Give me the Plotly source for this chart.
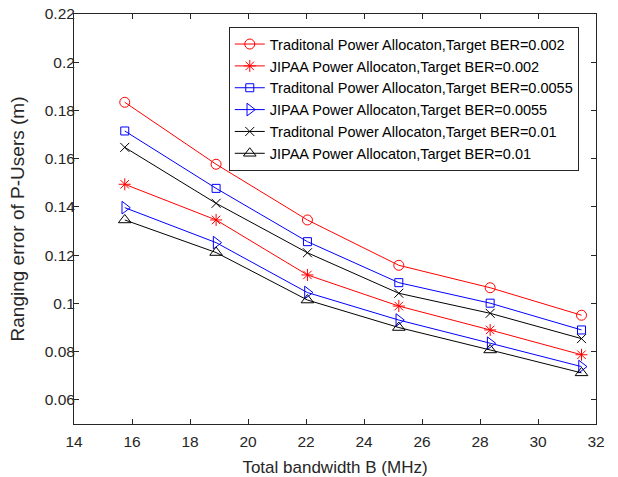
import plotly.graph_objects as go

bandwidth = [15.75, 18.9, 22.05, 25.2, 28.35, 31.5]

trad_0002 = [0.1834, 0.1577, 0.1346, 0.1158, 0.1065, 0.0951]
jipaa_0002 = [0.1494, 0.1346, 0.1118, 0.0989, 0.0890, 0.0787]
trad_00055 = [0.1715, 0.1477, 0.1256, 0.1086, 0.1001, 0.0890]
jipaa_00055 = [0.1397, 0.1252, 0.1045, 0.0931, 0.0835, 0.0738]
trad_001 = [0.1647, 0.1415, 0.1210, 0.1042, 0.0959, 0.0854]
jipaa_001 = [0.1346, 0.1211, 0.1014, 0.0900, 0.0807, 0.0712]

series_names = [
    "Traditonal Power Allocaton,Target BER=0.002",
    "JIPAA Power Allocaton,Target BER=0.002",
    "Traditonal Power Allocaton,Target BER=0.0055",
    "JIPAA Power Allocaton,Target BER=0.0055",
    "Traditonal Power Allocaton,Target BER=0.01",
    "JIPAA Power Allocaton,Target BER=0.01",
]
series_values = [trad_0002, jipaa_0002, trad_00055, jipaa_00055, trad_001, jipaa_001]

x_ticks = [14, 16, 18, 20, 22, 24, 26, 28, 30, 32]
y_ticks = [0.06, 0.08, 0.1, 0.12, 0.14, 0.16, 0.18, 0.2, 0.22]
y_tick_labels = ["0.06", "0.08", "0.1", "0.12", "0.14", "0.16", "0.18", "0.2", "0.22"]

colors = ["#FF0000", "#FF0000", "#0000FF", "#0000FF", "#000000", "#000000"]
symbols = ["circle-open", "asterisk-open", "square-open", "triangle-right-open", "x-thin-open", "triangle-up-open"]
sizes = [10, 10, 8, 11, 9, 11]

fig = go.Figure()
for name, vals, c, s, sz in zip(series_names, series_values, colors, symbols, sizes):
    fig.add_trace(go.Scatter(
        x=bandwidth, y=vals, name=name, mode="lines+markers",
        line=dict(color=c, width=1),
        marker=dict(symbol=s, size=sz, color=c, line=dict(color=c, width=1)),
    ))

axis_color = "#262626"
fig.update_layout(
    width=618, height=477,
    margin=dict(l=74, r=22, t=14, b=53),
    paper_bgcolor="white", plot_bgcolor="white",
    font=dict(family="Liberation Sans, Arial, sans-serif", size=15, color=axis_color),
    showlegend=True,
    legend=dict(
        x=0.967, y=0.968, xanchor="right", yanchor="top",
        bgcolor="white", bordercolor="#262626", borderwidth=1,
        font=dict(size=14.5, color="#000000"),
        tracegroupgap=0, itemwidth=30,
    ),
    xaxis=dict(
        range=[14, 32], tickvals=x_ticks, ticks="inside", ticklen=5,
        tickcolor=axis_color, showline=True, linecolor=axis_color, linewidth=1,
        mirror="allticks", showgrid=False, zeroline=False, automargin=False,
        tickfont=dict(size=15.5), ticklabelstandoff=3,
        title=dict(text="Total bandwidth B (MHz)", font=dict(size=17)),
    ),
    yaxis=dict(
        range=[0.05, 0.22], tickvals=y_ticks, ticktext=y_tick_labels,
        ticks="inside", ticklen=5,
        tickcolor=axis_color, showline=True, linecolor=axis_color, linewidth=1,
        mirror="allticks", showgrid=False, zeroline=False, automargin=False,
        tickfont=dict(size=15.5), ticklabelstandoff=-5,
        title=dict(text="Ranging error of P-Users (m)", font=dict(size=19)),
    ),
)

fig.write_html("out.html", config={"displayModeBar": False},
               post_script="document.body.style.margin='0';")
